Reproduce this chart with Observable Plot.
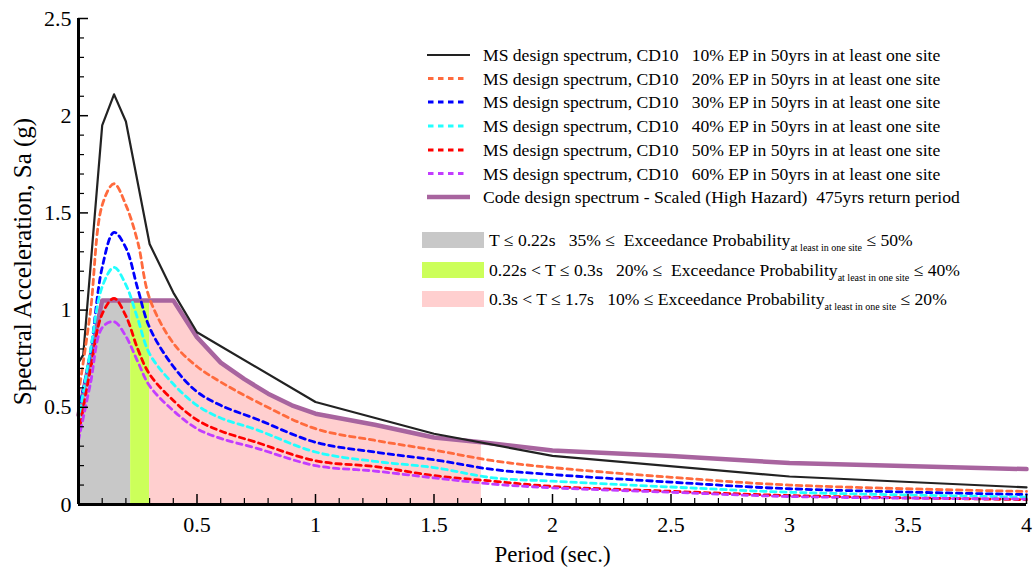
<!DOCTYPE html>
<html><head><meta charset="utf-8">
<script src="https://cdn.jsdelivr.net/npm/d3@7"></script>
<script src="https://cdn.jsdelivr.net/npm/@observablehq/plot@0.6"></script>
<style>
body{margin:0;background:#fff;}
svg text{white-space:pre;}
</style></head><body><div id="chart"></div>
<script>
// ---- data ----
const periodsMS = [0, 0.05, 0.1, 0.15, 0.2, 0.25, 0.3, 0.4, 0.5, 0.6, 0.75, 1, 1.25, 1.5, 1.75, 2, 2.5, 3, 4];
const ep20 = [0.57, 0.99, 1.54, 1.65, 1.54, 1.35, 1.06, 0.83, 0.71, 0.63, 0.53, 0.39, 0.33, 0.28, 0.225, 0.19, 0.14, 0.10, 0.067];
const ep30 = [0.48, 0.78, 1.22, 1.40, 1.32, 1.11, 0.91, 0.71, 0.58, 0.51, 0.44, 0.32, 0.27, 0.23, 0.18, 0.154, 0.115, 0.081, 0.051];
const ep40 = [0.43, 0.79, 1.12, 1.22, 1.13, 0.955, 0.775, 0.62, 0.51, 0.445, 0.385, 0.27, 0.222, 0.19, 0.137, 0.12, 0.09, 0.063, 0.038];
const ep50 = [0.36, 0.69, 0.98, 1.06, 0.97, 0.80, 0.67, 0.535, 0.435, 0.378, 0.32, 0.225, 0.195, 0.149, 0.12, 0.093, 0.068, 0.046, 0.025];
const ep60 = [0.33, 0.62, 0.91, 0.94, 0.865, 0.735, 0.61, 0.483, 0.39, 0.34, 0.29, 0.2, 0.172, 0.137, 0.105, 0.086, 0.063, 0.041, 0.028];

const periods10 = [0, 0.02, 0.1, 0.15, 0.2, 0.3, 0.4, 0.5, 1, 1.5, 2, 3, 4];
const ep10 = [0.73, 0.77, 1.95, 2.11, 1.97, 1.34, 1.09, 0.886, 0.527, 0.364, 0.25, 0.144, 0.088];

const periodsCode = [0, 0.1, 0.4, 0.5, 0.6, 0.7, 0.8, 0.9, 1, 1.25, 1.5, 1.7, 2, 2.5, 3, 4];
const codeSa = [0.46, 1.05, 1.05, 0.86, 0.73, 0.645, 0.57, 0.51, 0.467, 0.41, 0.345, 0.32, 0.278, 0.25, 0.213, 0.182];

const bandStart = [0, 0.22, 0.3];
const bandEnd = [0.22, 0.3, 1.7];

const seriesNames = [
  "MS design spectrum, CD10   10% EP in 50yrs in at least one site",
  "MS design spectrum, CD10   20% EP in 50yrs in at least one site",
  "MS design spectrum, CD10   30% EP in 50yrs in at least one site",
  "MS design spectrum, CD10   40% EP in 50yrs in at least one site",
  "MS design spectrum, CD10   50% EP in 50yrs in at least one site",
  "MS design spectrum, CD10   60% EP in 50yrs in at least one site",
  "Code design spectrum - Scaled (High Hazard)  475yrs return period"
];
const bandLabelMain = [
  "T \u2264 0.22s   35% \u2264  Exceedance Probability",
  "0.22s < T \u2264 0.3s   20% \u2264  Exceedance Probability",
  "0.3s < T \u2264 1.7s   10% \u2264 Exceedance Probability"
];
const bandLabelSub = "at least in one site";
const bandLabelEnd = [" \u2264 50%", " \u2264 40%", " \u2264 20%"];

const xMajor = [0.5, 1, 1.5, 2, 2.5, 3, 3.5, 4];
const yMajor = [0, 0.5, 1, 1.5, 2, 2.5];

// ---- styles ----
const serif = '"Liberation Serif", "Times New Roman", serif';
const dashedColors = ["#ff6a3d", "#0000ff", "#22ffff", "#ff0000", "#c23dff"];
const black = "#222222";
const purple = "#a8649f";
const bandColors = ["#c8c8c8", "#ccff5a", "#ffcfcf"];

const dashedSeries = [ep20, ep30, ep40, ep50, ep60];
const dashedRows = dashedSeries.map(s => periodsMS.map((t, i) => ({T: t, Sa: s[i]})));
const blackRows = periods10.map((t, i) => ({T: t, Sa: ep10[i]}));
const codeRows = periodsCode.map((t, i) => ({T: t, Sa: codeSa[i]}));

// band fills lie under the code spectrum
const codeAt = d3.scaleLinear().domain(periodsCode).range(codeSa);
const bandRows = bandStart.map((a, k) => {
  const b = bandEnd[k];
  const inner = periodsCode.filter(t => t > a && t < b);
  return [a, ...inner, b].map(t => ({T: t, Sa: codeAt(t)}));
});

const xMinor = d3.range(1, 41).map(i => i / 10).filter(v => !xMajor.some(m => Math.abs(m - v) < 1e-9));
const yMinor = d3.range(1, 26).map(i => i / 10).filter(v => !yMajor.some(m => Math.abs(m - v) < 1e-9));

const chart = Plot.plot({
  width: 1035, height: 569,
  marginLeft: 78, marginRight: 9, marginTop: 18, marginBottom: 65,
  style: {fontFamily: serif, fontSize: "22px", color: "#000", background: "#fff"},
  x: {domain: [0, 4]},
  y: {domain: [0, 2.5]},
  marks: [
    ...bandRows.map((rows, k) => Plot.areaY(rows, {x: "T", y: "Sa", fill: bandColors[k]})),
    Plot.line(codeRows, {x: "T", y: "Sa", stroke: purple, strokeWidth: 4.5, strokeLinejoin: "round"}),
    Plot.line(blackRows, {x: "T", y: "Sa", stroke: black, strokeWidth: 2.2}),
    ...dashedRows.map((rows, k) => Plot.line(rows, {x: "T", y: "Sa", stroke: dashedColors[k], strokeWidth: 2.8, strokeDasharray: "5.5,4.5", curve: "catmull-rom"})),
    Plot.ruleX([0], {stroke: "#000", strokeWidth: 3}),
    Plot.ruleY([0], {stroke: "#000", strokeWidth: 3}),
    Plot.axisX(xMajor, {tickSize: 0, tickPadding: 12, tickFormat: d => String(d), label: null, fontSize: 22}),
    Plot.axisX(xMajor, {tickSize: -10, tickFormat: () => "", label: null, strokeWidth: 1.5}),
    Plot.axisX(xMinor, {tickSize: -6, tickFormat: () => "", label: null, strokeWidth: 1.2}),
    Plot.axisY(yMajor, {tickSize: 0, tickPadding: 7, tickFormat: d => String(d), label: null, fontSize: 22}),
    Plot.axisY(yMajor, {tickSize: -10, tickFormat: () => "", label: null, strokeWidth: 1.5}),
    Plot.axisY(yMinor, {tickSize: -6, tickFormat: () => "", label: null, strokeWidth: 1.2}),
    Plot.text(["Period (sec.)"], {frameAnchor: "bottom", lineAnchor: "middle", dy: 50, fontSize: 23, fill: "#000"}),
    Plot.text(["Spectral Acceleration, Sa (g)"], {frameAnchor: "left", textAnchor: "middle", lineAnchor: "middle", dx: -56, rotate: -90, fontSize: 25, fill: "#000"})
  ]
});
document.getElementById("chart").appendChild(chart);

// ---- legends ----
const svg = d3.select(chart);
const lg = svg.append("g").attr("font-family", serif).attr("font-size", 17.6).attr("fill", "#000").attr("text-anchor", "start");
const rowY = [55, 78.5, 102, 126, 150, 173.5, 197];
const lineStyles = [
  {stroke: black, w: 2.2, dash: null},
  ...dashedColors.map(c => ({stroke: c, w: 2.8, dash: "5.5,4.5"})),
  {stroke: purple, w: 4.5, dash: null}
];
seriesNames.forEach((name, i) => {
  const s = lineStyles[i];
  const l = lg.append("line").attr("x1", 427).attr("x2", 470).attr("y1", rowY[i]).attr("y2", rowY[i])
    .attr("stroke", s.stroke).attr("stroke-width", s.w);
  if (s.dash) l.attr("stroke-dasharray", s.dash).attr("x1", 428).attr("x2", 466);
  lg.append("text").attr("x", 483).attr("y", rowY[i] + 6).text(name);
});
const bandY = [240, 270, 299];
bandLabelMain.forEach((txt, k) => {
  lg.append("rect").attr("x", 422).attr("y", bandY[k] - 8).attr("width", 62).attr("height", 16).attr("fill", bandColors[k]);
  const t = lg.append("text").attr("x", 489).attr("y", bandY[k] + 6);
  t.append("tspan").text(txt);
  t.append("tspan").attr("font-size", 10).attr("dy", 5).text(bandLabelSub);
  t.append("tspan").attr("dy", -5).text(bandLabelEnd[k]);
});
</script></body></html>
